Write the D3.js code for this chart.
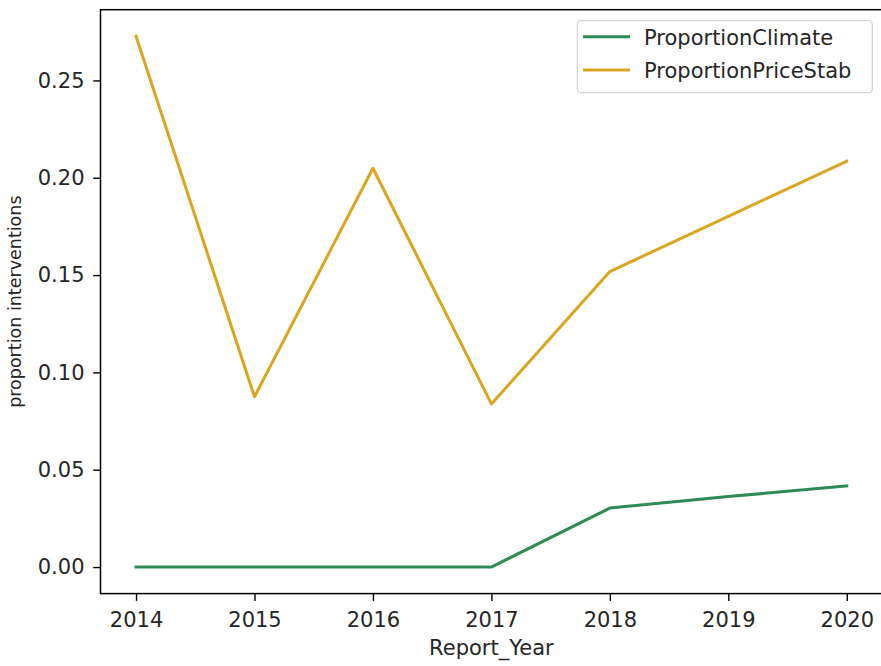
<!DOCTYPE html>
<html>
<head>
<meta charset="utf-8">
<script src="https://cdn.jsdelivr.net/npm/d3@7"></script>
<style>
  html, body { margin: 0; padding: 0; background: #fff; }
  svg { display: block; font-family: "DejaVu Sans", sans-serif; }
</style>
</head>
<body>
<svg id="chart" width="881" height="666"></svg>
<script>
const years = [2014, 2015, 2016, 2017, 2018, 2019, 2020];
const proportionClimate = [0, 0, 0, 0, 0.0303, 0.0362, 0.0417];
const proportionPriceStab = [0.2727, 0.0875, 0.2049, 0.0838, 0.1518, 0.1802, 0.2085];
const yTicks = [0.00, 0.05, 0.10, 0.15, 0.20, 0.25];
const seriesNames = ["ProportionClimate", "ProportionPriceStab"];
const seriesColors = ["#2e8b57", "#daa520"];

(function () {
const svg = d3.select("#chart");
const mLeft = 100.5, mRight = 882.3, mTop = 9.7, mBottom = 593.6;

const allVals = proportionClimate.concat(proportionPriceStab);
const yMin = d3.min(allVals), yMax = d3.max(allVals);
const yPad = (yMax - yMin) * 0.05;
const xMin = d3.min(years), xMax = d3.max(years);
const xPad = (xMax - xMin) * 0.05;

const x = d3.scaleLinear().domain([xMin - xPad, xMax + xPad]).range([mLeft, mRight]);
const y = d3.scaleLinear().domain([yMin - yPad, yMax + yPad]).range([mBottom, mTop]);

const textColor = "#262626";
const fs = "21px";

const xAxis = d3.axisBottom(x).tickValues(years).tickFormat(d3.format("d")).tickSize(7.3).tickPadding(11);
const yAxis = d3.axisLeft(y).tickValues(yTicks).tickFormat(d3.format(".2f")).tickSize(7.3).tickPadding(8.7);

const gx = svg.append("g").attr("transform", `translate(0,${mBottom})`).call(xAxis);
const gy = svg.append("g").attr("transform", `translate(${mLeft},0)`).call(yAxis);
[gx, gy].forEach(g => {
  g.select(".domain").remove();
  g.selectAll(".tick line").attr("stroke", "#000").attr("stroke-width", 1.4);
  g.selectAll(".tick text").attr("fill", textColor).style("font-size", fs).style("font-family", "DejaVu Sans");
});

const series = [proportionClimate, proportionPriceStab];
const line = d3.line().x((d, i) => x(years[i])).y(d => y(d));
series.forEach((s, k) => {
  svg.append("path")
    .datum(s)
    .attr("fill", "none")
    .attr("stroke", seriesColors[k])
    .attr("stroke-width", 3)
    .attr("stroke-linejoin", "round")
    .attr("stroke-linecap", "square")
    .attr("d", line);
});

svg.append("rect")
  .attr("x", mLeft).attr("y", mTop)
  .attr("width", mRight - mLeft).attr("height", mBottom - mTop)
  .attr("fill", "none").attr("stroke", "#000").attr("stroke-width", 1.5);

svg.append("text")
  .attr("x", (mLeft + mRight) / 2).attr("y", 655)
  .attr("text-anchor", "middle")
  .attr("fill", textColor)
  .style("font-size", fs)
  .text("Report_Year");

svg.append("text")
  .attr("transform", `translate(21,${(mTop + mBottom) / 2}) rotate(-90)`)
  .attr("text-anchor", "middle")
  .attr("fill", textColor)
  .style("font-size", "17.5px")
  .text("proportion interventions");

const lg = svg.append("g");
lg.append("rect")
  .attr("x", 577.3).attr("y", 20.7)
  .attr("width", 295).attr("height", 72)
  .attr("rx", 4).attr("ry", 4)
  .attr("fill", "#fff").attr("fill-opacity", 0.8)
  .attr("stroke", "#d4d4d4").attr("stroke-width", 1.3);
seriesNames.forEach((name, k) => {
  const yy = 36.7 + k * 33.3;
  lg.append("line")
    .attr("x1", 583).attr("x2", 630)
    .attr("y1", yy).attr("y2", yy)
    .attr("stroke", seriesColors[k]).attr("stroke-width", 3);
  lg.append("text")
    .attr("x", 644).attr("y", yy + 8)
    .attr("fill", textColor)
    .style("font-size", fs)
    .text(name);
});
})();
</script>
</body>
</html>
